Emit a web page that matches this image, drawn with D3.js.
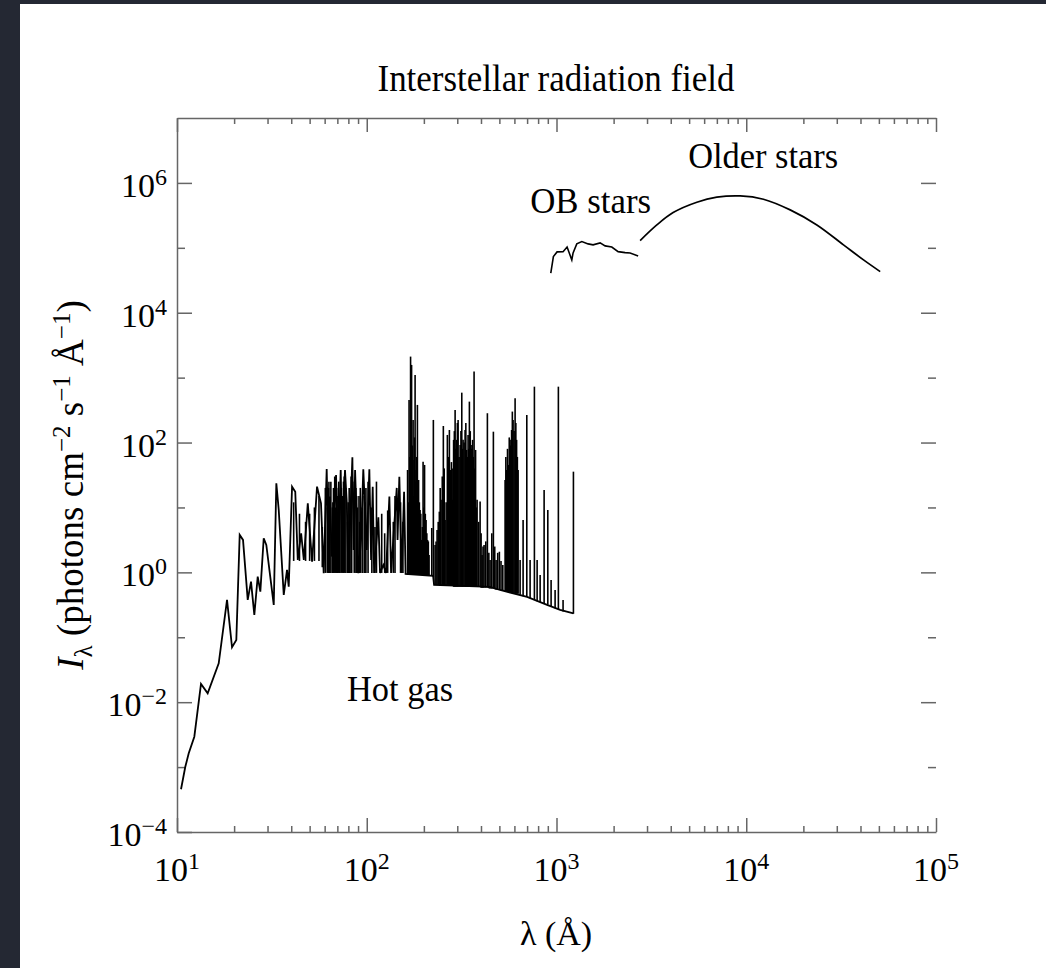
<!DOCTYPE html>
<html>
<head>
<meta charset="utf-8">
<script src="https://cdn.jsdelivr.net/npm/d3@7"></script>
<style>
  body { margin: 0; background: #242833; }
  svg { display: block; }
  text { font-family: "Liberation Serif", "Times New Roman", serif; fill: #000; }
</style>
</head>
<body>
<div id="c"></div>
<script>
"use strict";

// ---- data (wavelength in Å, intensity in photons cm^-2 s^-1 Å^-1) ----
const titleText = "Interstellar radiation field"

// hot gas: jagged low-wavelength part, read point by point
const hotGasLow = [
  [10.5, 4.55e-4], [11.06, 1.01e-3], [11.53, 1.63e-3], [12.34, 2.94e-3], [13.38, 0.0191],
  [14.51, 0.0137], [16.59, 0.0397], [18.35, 0.376], [19.5, 0.0702], [20.54, 0.0908],
  [21.4, 3.77], [22.28, 3.16], [23.59, 0.376], [24.55, 0.72], [25.56, 0.221],
  [26.63, 0.859], [27.49, 0.505], [28.64, 3.35], [29.56, 2.64], [32.35, 0.315],
  [33.38, 23.6], [34.37, 9.15], [36.52, 0.449], [38.0, 1.09], [38.8, 0.603],
  [40.4, 20.9], [42.0, 17.5], [43.3, 1.55], [45.1, 4.0], [46.6, 1.55],
  [48.9, 11.6], [51.5, 1.46], [54.7, 20.9], [57.4, 11.6], [59.3, 0.97],
  [61.5, 39.2], [62.5, 4.5], [64.0, 14.7], [65.4, 1.75], [67.2, 6.41],
  [68.9, 31.7], [70.6, 1.55], [72.9, 37.8], [74.1, 3.16], [76.8, 37.8],
  [78.5, 11.7], [80.0, 0.98], [84.0, 59.3], [85.2, 2.21], [86.8, 37.8],
  [90.3, 0.97], [93.3, 3.16], [95.9, 38.8], [100, 2.21], [103.2, 38.8],
  [105.4, 1.55], [107.5, 20.9], [109.3, 0.98], [115.1, 7.06], [117.5, 0.98],
  [122.3, 1.3], [126.4, 0.98], [131.6, 14.7], [134.3, 0.98], [143.9, 20.0],
  [145.3, 3.16], [148.5, 29.8], [152.9, 0.98], [157.3, 17.5], [160.2, 0.945]
]

// hot gas continuum under the emission lines
const hotGasCont = [
  [160.2, 0.945], [223.7, 0.88], [226.4, 0.64], [446.7, 0.596], [504.2, 0.535],
  [699.8, 0.418], [892.3, 0.315], [1045, 0.264], [1228, 0.234]
]

// hot gas emission lines: [wavelength, base, peak]
const hotGasLines = [
  // 40 - 60 Å
  [41.2, 1.5, 12], [44.2, 1.5, 8], [47.6, 1.5, 6], [50.0, 1.5, 8], [53.0, 1.5, 10],
  [56.0, 1.5, 15], [58.3, 1.2, 5],
  // 60 - 100 Å dense forest
  [60.5, 0.98, 20], [61.9, 0.98, 10], [62.9, 0.98, 20], [63.2, 0.98, 25], [63.6, 0.98, 8],
  [64.7, 0.98, 25], [65.9, 0.98, 10], [66.3, 0.98, 12], [66.8, 0.98, 20], [67.8, 0.98, 30],
  [68.4, 0.98, 10], [69.4, 0.98, 20], [69.8, 0.98, 15], [70.2, 0.98, 8], [71.2, 0.98, 25],
  [71.7, 0.98, 10], [72.3, 0.98, 15], [73.5, 0.98, 20], [74.7, 0.98, 15], [75.4, 0.98, 25],
  [76.1, 0.98, 30], [77.6, 0.98, 20], [79.2, 0.98, 6], [79.8, 0.98, 12], [80.8, 0.98, 20],
  [81.5, 0.98, 8], [82.7, 0.98, 30], [83.3, 0.98, 15], [85.9, 0.98, 25], [87.7, 0.98, 20],
  [88.5, 0.98, 15], [89.4, 0.98, 10], [91.0, 0.98, 15], [91.8, 0.98, 6], [92.5, 0.98, 20],
  [94.6, 0.98, 10], [96.9, 0.98, 15], [97.9, 0.98, 12], [99.0, 0.98, 20],
  // 100 - 160 Å
  [101.6, 0.98, 25], [106.4, 0.98, 10], [110.5, 0.98, 5], [112.5, 0.98, 25],
  [119.9, 0.98, 8], [124.3, 0.98, 4], [128.9, 0.98, 9], [138.0, 0.98, 6], [140.9, 0.98, 15],
  [150.7, 0.98, 12], [155.1, 0.98, 6],
  // 160 - 230 Å
  [164.1, 0.91, 37.8], [165.6, 0.91, 12], [167.1, 0.91, 453], [168.6, 0.91, 60],
  [170.2, 0.91, 2110], [171.2, 0.91, 300], [172.3, 0.91, 1570], [173.9, 0.91, 90],
  [175.5, 0.91, 223], [176.5, 0.91, 15], [177.6, 0.91, 54], [178.7, 0.91, 120],
  [179.8, 0.91, 1100], [180.9, 0.91, 25], [182.0, 0.91, 37.8], [183.4, 0.91, 60],
  [184.9, 0.91, 380], [186.2, 0.91, 20], [187.6, 0.91, 26.5], [189.3, 0.91, 12],
  [191.0, 0.91, 9.15], [192.7, 0.91, 8], [194.5, 0.91, 3.16], [196.3, 0.91, 5],
  [198.1, 0.91, 50.8], [199.9, 0.91, 10], [201.7, 0.91, 45.2], [203.5, 0.91, 8],
  [205.4, 0.91, 6.41], [207.3, 0.91, 4], [209.2, 0.91, 3.16], [211.1, 0.91, 3],
  [213.0, 0.91, 1.85], [220.1, 0.88, 4.83], [224.4, 0.85, 223],
  // 230 - 420 Å
  [229.1, 0.64, 2.64], [231.9, 0.64, 3], [234.8, 0.64, 4.5], [238.0, 0.64, 6],
  [241.3, 0.64, 8.61], [243.8, 0.64, 20], [246.4, 0.64, 13.1], [250.0, 0.64, 30],
  [253.3, 0.64, 180], [256.0, 0.64, 40], [258.7, 0.64, 6.41], [262.0, 0.64, 12],
  [266.0, 0.64, 131], [269.3, 0.64, 60], [272.6, 0.64, 156], [275.0, 0.62, 20],
  [277.3, 0.62, 37.8], [279.5, 0.62, 50], [281.7, 0.62, 13.1], [284.3, 0.62, 40],
  [286.9, 0.6, 110], [289.5, 0.6, 150], [292.2, 0.6, 318], [294.9, 0.6, 80],
  [297.6, 0.6, 110], [300.3, 0.6, 200], [303.0, 0.6, 223], [306.7, 0.6, 60],
  [310.5, 0.6, 91.8], [313.6, 0.6, 150], [316.8, 0.6, 587], [319.3, 0.6, 80],
  [321.9, 0.6, 110], [325.8, 0.6, 100], [329.8, 0.6, 156], [332.8, 0.6, 200],
  [335.9, 0.6, 76.9], [338.9, 0.6, 60], [342.0, 0.6, 131], [344.7, 0.6, 80],
  [347.5, 0.6, 427], [351.1, 0.6, 150], [354.7, 0.6, 91.8], [357.9, 0.6, 80],
  [361.2, 0.6, 110], [364.5, 0.6, 60], [367.8, 0.6, 1240], [371.2, 0.6, 40],
  [374.6, 0.6, 76.9], [378.0, 0.6, 10], [381.5, 0.6, 13.1], [388.6, 0.6, 6],
  [395.7, 0.6, 12.3], [400.5, 0.58, 4], [405.4, 0.58, 1.85], [410.0, 0.58, 2.5],
  [415.3, 0.58, 2.64],
  // 420 - 1250 Å
  [424.0, 0.58, 3], [432.3, 0.58, 283], [440.0, 0.57, 2], [446.7, 0.56, 1.55],
  [456.0, 0.56, 4], [464.9, 0.56, 147], [472.6, 0.55, 2.5], [480.4, 0.54, 1.55],
  [490.0, 0.54, 2], [500, 0.54, 2.08], [510.0, 0.53, 1.5], [521.2, 0.52, 1.3],
  [535.9, 0.52, 26.5], [540.8, 0.51, 60], [545.8, 0.5, 37.8], [551.8, 0.5, 80],
  [557.8, 0.5, 45.2], [563.6, 0.5, 120], [569.4, 0.5, 110], [574.6, 0.49, 90],
  [579.9, 0.48, 156], [585.2, 0.48, 300], [590.5, 0.48, 223], [597.8, 0.48, 150],
  [605.1, 0.48, 482], [610.6, 0.47, 200], [616.2, 0.47, 110], [621.9, 0.47, 60],
  [627.6, 0.47, 37.8], [643.0, 0.45, 1.55], [666.8, 0.43, 6.41], [697.4, 0.42, 266],
  [725.9, 0.4, 1.55], [764.8, 0.38, 726], [790.5, 0.36, 1.55], [819.8, 0.35, 0.91],
  [860.5, 0.33, 18.6], [899.9, 0.32, 9.15], [936.6, 0.3, 0.76], [983.2, 0.28, 0.535],
  [1023, 0.27, 726], [1083, 0.25, 0.376], [1228, 0.23, 35.6]
]

const obStars = [
  [933, 40600], [963, 73200], [1007, 86500], [1083, 87300], [1137, 103000],
  [1204, 65100], [1223, 83400], [1279, 115000], [1360, 125000], [1468, 115000],
  [1559, 111000], [1698, 119000], [1804, 107000], [1956, 103000], [2112, 87300],
  [2299, 84400], [2443, 83400], [2693, 75000]
]

const olderStars = [
  [2759, 129000], [3379, 225000], [4118, 349000], [5491, 504000], [6998, 602000],
  [9288, 631000], [12320, 561000], [17040, 384000], [23560, 225000], [32540, 111000],
  [41490, 65100], [50810, 43000]
]

const annotations = [
  { text: "Older stars", x: 12280, y: 1.7e6, w: 150 },
  { text: "OB stars", x: 1514, y: 3.48e5, w: 121 },
  { text: "Hot gas", x: 149.8, y: 0.0104, w: 106 }
]

const xMajor = [10, 100, 1000, 10000, 100000]
const xMinor = [20, 30, 40, 50, 60, 70, 80, 90, 200, 300, 400, 500, 600, 700, 800, 900,
  2000, 3000, 4000, 5000, 6000, 7000, 8000, 9000, 20000, 30000, 40000, 50000, 60000, 70000, 80000, 90000]
const xLabelExp = ["1", "2", "3", "4", "5"]
const yMajor = [1e-4, 1e-2, 1, 1e2, 1e4, 1e6]
const yMinor = [1e-3, 1e-1, 10, 1e3, 1e5]
const yLabelExp = ["\u22124", "\u22122", "0", "2", "4", "6"]

// ---- chart ----
const W = 1046, H = 968
const axisColor = "#666"

const svg = d3.select('#c').append('svg').attr('width', W).attr('height', H)
svg.append('rect').attr('width', W).attr('height', H).attr('fill', '#242833')
svg.append('rect').attr('x', 20).attr('y', 4).attr('width', W - 20).attr('height', H - 4).attr('fill', '#fff')

const xScale = d3.scaleLog().domain([10, 1e5]).range([177, 936])
const yScale = d3.scaleLog().domain([1e-4, 1e7]).range([832, 118])

function styleAxis(g) {
  g.selectAll('path, line').attr('stroke', axisColor).attr('stroke-width', 1.5)
  g.selectAll('text').remove()
}

// bottom & top
;[[d3.axisBottom, 832], [d3.axisTop, 118]].forEach(([ax, y]) => {
  svg.append('g').attr('transform', 'translate(0,' + y + ')')
    .call(ax(xScale).tickValues(xMajor).tickSize(-14).tickSizeOuter(0)).call(styleAxis)
  svg.append('g').attr('transform', 'translate(0,' + y + ')')
    .call(ax(xScale).tickValues(xMinor).tickSize(-6).tickSizeOuter(0))
    .call(styleAxis).call(g => g.select('.domain').remove())
})
// left
svg.append('g').attr('transform', 'translate(177,0)')
  .call(d3.axisLeft(yScale).tickValues(yMajor).tickSize(-15).tickSizeOuter(0)).call(styleAxis)
svg.append('g').attr('transform', 'translate(177,0)')
  .call(d3.axisLeft(yScale).tickValues(yMinor).tickSize(-8).tickSizeOuter(0))
  .call(styleAxis).call(g => g.select('.domain').remove())
// right: ticks only
svg.append('g').attr('transform', 'translate(936,0)')
  .call(d3.axisRight(yScale).tickValues(yMajor.slice(1)).tickSize(-15).tickSizeOuter(0))
  .call(styleAxis).call(g => g.select('.domain').remove())
svg.append('g').attr('transform', 'translate(936,0)')
  .call(d3.axisRight(yScale).tickValues(yMinor).tickSize(-8).tickSizeOuter(0))
  .call(styleAxis).call(g => g.select('.domain').remove())

// tick labels
function powerLabel(sel, exp) {
  sel.append('tspan').text('10')
  sel.append('tspan').attr('dy', -12).style('font-size', '24px').text(exp)
}
xMajor.forEach((v, i) => {
  svg.append('text').attr('x', xScale(v)).attr('y', 881)
    .attr('text-anchor', 'middle').style('font-size', '34px')
    .call(powerLabel, xLabelExp[i])
})
yMajor.forEach((v, i) => {
  svg.append('text').attr('x', 167).attr('y', yScale(v) + 14)
    .attr('text-anchor', 'end').style('font-size', '34px')
    .call(powerLabel, yLabelExp[i])
})

// titles
svg.append('text').attr('x', 556).attr('y', 91).attr('text-anchor', 'middle')
  .style('font-size', '37px').attr('textLength', 357).attr('lengthAdjust', 'spacingAndGlyphs')
  .text(titleText)
svg.append('text').attr('x', 556).attr('y', 945).attr('text-anchor', 'middle')
  .style('font-size', '34px').text('\u03bb (\u00c5)')

const yl = svg.append('text').attr('transform', 'translate(83,485) rotate(-90)')
  .attr('text-anchor', 'middle').style('font-size', '37px')
yl.append('tspan').style('font-style', 'italic').text('I')
yl.append('tspan').attr('dy', 9).style('font-size', '25px').text('\u03bb')
yl.append('tspan').attr('dy', -9).text(' (photons cm')
yl.append('tspan').attr('dy', -13).style('font-size', '25px').text('\u22122')
yl.append('tspan').attr('dy', 13).text(' s')
yl.append('tspan').attr('dy', -13).style('font-size', '25px').text('\u22121')
yl.append('tspan').attr('dy', 13).text(' \u00c5')
yl.append('tspan').attr('dy', -13).style('font-size', '25px').text('\u22121')
yl.append('tspan').attr('dy', 13).text(')')

// data lines
const line = d3.line().x(d => xScale(d[0])).y(d => yScale(d[1]))
const plot = svg.append('g').attr('fill', 'none').attr('stroke', '#000')

plot.append('path').datum(hotGasLow.concat(hotGasCont.slice(1)))
  .attr('stroke-width', 1.8).attr('d', line)
plot.append('g').selectAll('path').data(hotGasLines).join('path')
  .attr('stroke-width', 1.6)
  .attr('d', d => line([[d[0], d[1]], [d[0], d[2]]]))
plot.append('path').datum(obStars).attr('stroke-width', 1.6).attr('d', line)
plot.append('path').datum(olderStars).attr('stroke-width', 1.7)
  .attr('d', line.curve(d3.curveCatmullRom))

annotations.forEach(a => {
  svg.append('text').attr('x', xScale(a.x)).attr('y', yScale(a.y))
    .attr('text-anchor', 'middle').style('font-size', '36px')
    .attr('textLength', a.w).attr('lengthAdjust', 'spacingAndGlyphs').text(a.text)
})
</script>
</body>
</html>
